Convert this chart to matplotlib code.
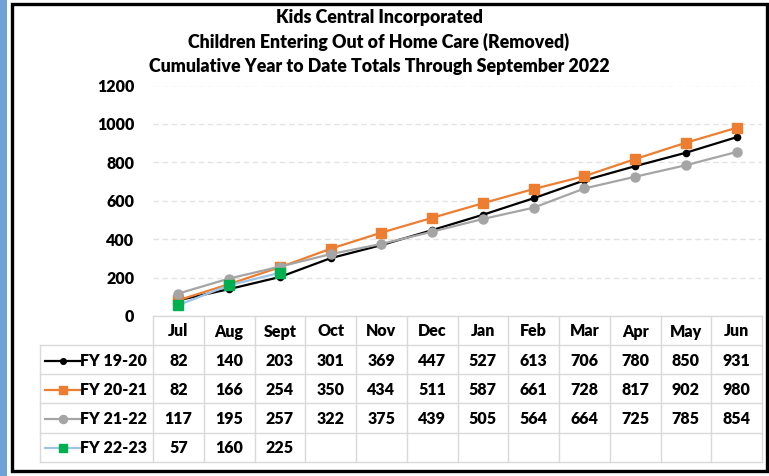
import matplotlib.pyplot as plt
from matplotlib.lines import Line2D
from matplotlib.patches import Rectangle

plt.rcParams['font.family'] = ['Lato', 'DejaVu Sans']
plt.rcParams['font.weight'] = 'heavy'

months = ['Jul', 'Aug', 'Sept', 'Oct', 'Nov', 'Dec', 'Jan', 'Feb', 'Mar', 'Apr', 'May', 'Jun']
fy_labels = ['FY 19-20', 'FY 20-21', 'FY 21-22', 'FY 22-23']
fy1920 = [82, 140, 203, 301, 369, 447, 527, 613, 706, 780, 850, 931]
fy2021 = [82, 166, 254, 350, 434, 511, 587, 661, 728, 817, 902, 980]
fy2122 = [117, 195, 257, 322, 375, 439, 505, 564, 664, 725, 785, 854]
fy2223 = [57, 160, 225]
yticks = [0, 200, 400, 600, 800, 1000, 1200]
title = ('Kids Central Incorporated\n'
         'Children Entering Out of Home Care (Removed)\n'
         'Cumulative Year to Date Totals Through September 2022')

series = [fy1920, fy2021, fy2122, fy2223]
# line colour, marker, marker colour, marker size
styles = [
    ('#000000', 'o', '#000000', 4.5),
    ('#ED7D31', 's', '#ED7D31', 6.5),
    ('#A5A5A5', 'o', '#A5A5A5', 6.5),
    ('#9DC3E6', 's', '#00B050', 7),
]
WT = 'heavy'
FS = 11.5

W, H = 769, 476
fig = plt.figure(figsize=(W / 100, H / 100), dpi=100)

# background layer in pixel coordinates (frame + data table)
bg = fig.add_axes([0, 0, 1, 1])
bg.set_xlim(0, W)
bg.set_ylim(H, 0)
bg.axis('off')
bg.add_patch(Rectangle((0, 0), 7, H, color='#6FA3D8', lw=0))
bg.add_patch(Rectangle((12, 4), 755, 467, fill=False, ec='black', lw=2.4))

fig.text(379 / W, 1 - 42 / H, title, ha='center', va='center', fontsize=12.8,
         fontweight=WT, linespacing=1.5)

col_x0, col_w = 153, 50.75
lab_x0 = 40
row_top, head_h, row_h = 316, 29, 29.2
n = len(months)
x_end = col_x0 + n * col_w
grid_c = '#D9D9D9'
ybot = row_top + head_h + len(series) * row_h

# table grid
bg.plot([col_x0, x_end], [row_top, row_top], color=grid_c, lw=1)
for r in range(len(series) + 1):
    yy = row_top + head_h + r * row_h
    bg.plot([lab_x0, x_end], [yy, yy], color=grid_c, lw=1)
bg.plot([lab_x0, lab_x0], [row_top + head_h, ybot], color=grid_c, lw=1)
for c in range(n + 1):
    xx = col_x0 + c * col_w
    bg.plot([xx, xx], [row_top, ybot], color=grid_c, lw=1)

for c, m in enumerate(months):
    bg.text(col_x0 + (c + 0.5) * col_w, row_top + head_h / 2 + 1, m,
            ha='center', va='center', fontsize=FS, fontweight=WT)

for r, (vals, lab, st) in enumerate(zip(series, fy_labels, styles)):
    yc = row_top + head_h + (r + 0.5) * row_h + 1
    lc, mk, mc, ms = st
    bg.add_line(Line2D([45, 80], [yc, yc], color=lc, lw=1.6))
    bg.plot([62.5], [yc], marker=mk, color=mc, ms=ms * 0.9, mec=mc)
    bg.text(80, yc, lab, ha='left', va='center', fontsize=FS, fontweight=WT)
    for c, v in enumerate(vals):
        bg.text(col_x0 + (c + 0.5) * col_w, yc, str(v), ha='center', va='center',
                fontsize=FS, fontweight=WT)

# chart area
ax = fig.add_axes([col_x0 / W, (H - row_top) / H, (x_end - col_x0) / W, (row_top - 85.5) / H])
ax.set_facecolor('none')
x = list(range(n))
for vals, st in zip(series, styles):
    lc, mk, mc, ms = st
    ax.plot(x[:len(vals)], vals, color=lc, lw=1.6, marker=mk, ms=ms,
            mfc=mc, mec=mc, clip_on=False, zorder=3)
ax.set_xlim(-0.5, n - 0.5)
ax.set_ylim(0, 1200)
ax.set_yticks(yticks)
ax.set_xticks([])
ax.yaxis.grid(True, color='#E3E3E3', linestyle=(0, (4, 2.5)), lw=1)
ax.set_axisbelow(True)
for s in ax.spines.values():
    s.set_visible(False)
ax.tick_params(axis='y', length=0, pad=13.5, labelsize=11.5)
for t in ax.get_yticklabels():
    t.set_fontweight(WT)

fig.savefig('out.png', dpi=100)
